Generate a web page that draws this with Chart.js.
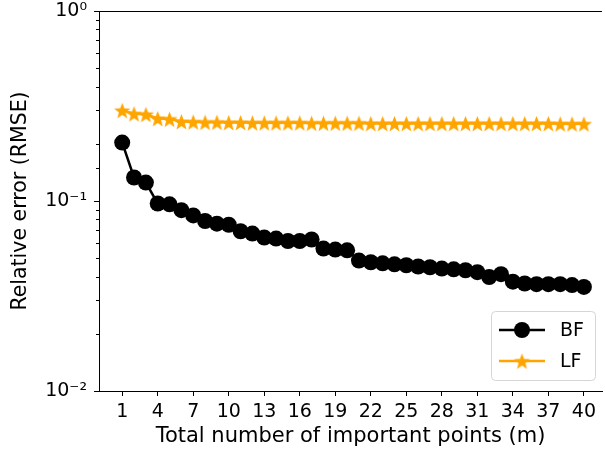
<!DOCTYPE html>
<html>
<head>
<meta charset="utf-8">
<title>Relative error vs important points</title>
<script src="https://cdn.jsdelivr.net/npm/chart.js"></script>
<style>
  html, body { margin: 0; padding: 0; background: #fff; overflow: hidden; }
  #wrap { width: 605px; height: 455px; overflow: hidden; }
</style>
</head>
<body>
<div id="wrap"><canvas id="errorChart" width="610" height="455"></canvas></div>
<script>
// m = total number of important points
const pointCounts = [1, 2, 3, 4, 5, 6, 7, 8, 9, 10, 11, 12, 13, 14, 15, 16, 17, 18, 19, 20,
  21, 22, 23, 24, 25, 26, 27, 28, 29, 30, 31, 32, 33, 34, 35, 36, 37, 38, 39, 40];

// relative error (RMSE)
const bfError = [0.203, 0.133, 0.125, 0.097, 0.096, 0.0895, 0.084, 0.0785, 0.076, 0.075,
  0.0693, 0.0674, 0.0642, 0.0634, 0.0616, 0.0616, 0.0627, 0.0562, 0.0555, 0.0550,
  0.0486, 0.0476, 0.0470, 0.0464, 0.0459, 0.0452, 0.0448, 0.0441, 0.0437, 0.0432,
  0.0422, 0.0398, 0.0412, 0.0376, 0.0368, 0.0365, 0.0365, 0.0365, 0.0361, 0.0353];
const lfError = [0.300, 0.288, 0.286, 0.272, 0.270, 0.262, 0.261, 0.260, 0.260, 0.259,
  0.259, 0.258, 0.258, 0.258, 0.258, 0.258, 0.257, 0.257, 0.257, 0.257,
  0.257, 0.256, 0.256, 0.256, 0.256, 0.256, 0.256, 0.256, 0.256, 0.256,
  0.256, 0.256, 0.256, 0.256, 0.256, 0.256, 0.256, 0.255, 0.255, 0.255];

const xTicks = [1, 4, 7, 10, 13, 16, 19, 22, 25, 28, 31, 34, 37, 40];
const yTickLabels = { '0': '10\u2070', '-1': '10\u207B\u00B9', '-2': '10\u207B\u00B2' };

const FONT = 'DejaVu Sans';
const ORANGE = '#FFA500';

// filled five-point star marker (Chart.js 'star' is only an asterisk)
function makeStar(r, color) {
  const c = document.createElement('canvas');
  const s = Math.ceil(r * 2) + 2;
  c.width = s; c.height = s;
  const g = c.getContext('2d');
  g.beginPath();
  for (let i = 0; i < 10; i++) {
    const rad = i % 2 === 0 ? r : r * 0.42;
    const a = -Math.PI / 2 + i * Math.PI / 5;
    const px = s / 2 + rad * Math.cos(a), py = s / 2 + 1 + rad * Math.sin(a);
    if (i === 0) g.moveTo(px, py); else g.lineTo(px, py);
  }
  g.closePath();
  g.fillStyle = color;
  g.fill();
  return c;
}
const starImg = makeStar(8.5, ORANGE);

// top spine + y ticks (minor ones shorter)
// the right spine sits past the visible edge, as in the original crop
const framePlugin = {
  id: 'frame',
  afterDraw(chart) {
    const { ctx, chartArea: a } = chart;
    const y = chart.scales.y;
    ctx.save();
    ctx.strokeStyle = '#000';
    ctx.lineWidth = 1;
    ctx.beginPath();
    ctx.moveTo(a.left, a.top + 0.5);
    ctx.lineTo(a.right, a.top + 0.5);
    y.ticks.forEach(t => {
      const e = Math.log10(t.value);
      const major = Math.abs(e - Math.round(e)) < 1e-6;
      const py = Math.round(y.getPixelForValue(t.value)) + 0.5;
      ctx.moveTo(a.left, py);
      ctx.lineTo(a.left - (major ? 5 : 3), py);
    });
    ctx.stroke();
    ctx.restore();
  }
};

// legend drawn inside the plot, lower right
const legendPlugin = {
  id: 'innerLegend',
  afterDraw(chart) {
    const { ctx, chartArea: a } = chart;
    const w = 104, h = 69;
    const x0 = a.right - 7 - w, y0 = a.bottom - 11 - h;
    ctx.save();
    ctx.beginPath();
    ctx.roundRect(x0 + 0.5, y0 + 0.5, w, h, 4);
    ctx.fillStyle = 'rgba(255,255,255,0.8)';
    ctx.fill();
    ctx.strokeStyle = '#d5d5d5';
    ctx.lineWidth = 1;
    ctx.stroke();
    const rows = [
      { label: 'BF', color: '#000', marker: 'circle' },
      { label: 'LF', color: ORANGE, marker: 'star' }
    ];
    rows.forEach((r, i) => {
      const cy = y0 + 19 + i * 31;
      const lx = x0 + 8;
      ctx.strokeStyle = r.color;
      ctx.lineWidth = 2.5;
      ctx.beginPath();
      ctx.moveTo(lx, cy);
      ctx.lineTo(lx + 46, cy);
      ctx.stroke();
      if (r.marker === 'circle') {
        ctx.fillStyle = r.color;
        ctx.beginPath();
        ctx.arc(lx + 23, cy, 8, 0, Math.PI * 2);
        ctx.fill();
      } else {
        ctx.drawImage(starImg, lx + 23 - starImg.width / 2, cy - starImg.height / 2);
      }
      ctx.fillStyle = '#000';
      ctx.font = '19px "' + FONT + '"';
      ctx.textBaseline = 'middle';
      ctx.textAlign = 'left';
      ctx.fillText(r.label, lx + 61, cy + 1);
    });
    ctx.restore();
  }
};

const ctx = document.getElementById('errorChart').getContext('2d');
new Chart(ctx, {
  type: 'line',
  data: {
    datasets: [
      {
        label: 'BF',
        data: pointCounts.map((m, i) => ({ x: m, y: bfError[i] })),
        borderColor: '#000',
        backgroundColor: '#000',
        borderWidth: 2.5,
        pointRadius: 8,
        pointBorderWidth: 0,
        pointBackgroundColor: '#000',
        tension: 0
      },
      {
        label: 'LF',
        data: pointCounts.map((m, i) => ({ x: m, y: lfError[i] })),
        borderColor: ORANGE,
        backgroundColor: ORANGE,
        borderWidth: 2.5,
        pointStyle: starImg,
        tension: 0
      }
    ]
  },
  options: {
    responsive: false,
    animation: false,
    layout: { padding: { top: 11, right: 0, left: 0, bottom: 0 } },
    plugins: {
      legend: { display: false },
      tooltip: { enabled: false }
    },
    scales: {
      x: {
        type: 'linear',
        min: -0.96,
        max: 41.53,
        afterBuildTicks: axis => { axis.ticks = xTicks.map(v => ({ value: v })); },
        afterFit: axis => { axis.height = 64; axis.paddingLeft = 0; axis.paddingRight = 0; },
        grid: { drawOnChartArea: false, drawTicks: true, tickLength: 5, tickColor: '#000' },
        border: { color: '#000', width: 1 },
        ticks: {
          autoSkip: false,
          maxRotation: 0,
          padding: 5,
          color: '#000',
          font: { family: FONT, size: 19 },
          callback: v => String(v)
        },
        title: {
          display: true,
          text: 'Total number of important points (m)',
          color: '#000',
          font: { family: FONT, size: 21 },
          padding: { top: 0, bottom: 6 }
        }
      },
      y: {
        type: 'logarithmic',
        min: 0.01,
        max: 1,
        afterFit: axis => { axis.width = 99; axis.paddingTop = 0; axis.paddingBottom = 0; },
        grid: { drawOnChartArea: false, drawTicks: false },
        border: { color: '#000', width: 1 },
        ticks: {
          autoSkip: false,
          padding: 12,
          color: '#000',
          font: { family: FONT, size: 19 },
          callback: v => {
            const e = Math.log10(v);
            const r = Math.round(e);
            return Math.abs(e - r) < 1e-6 ? (yTickLabels[String(r)] || '') : '';
          }
        },
        title: {
          display: true,
          text: 'Relative error (RMSE)',
          color: '#000',
          font: { family: FONT, size: 20.5 },
          padding: { top: 8, bottom: 0 }
        }
      }
    }
  },
  plugins: [framePlugin, legendPlugin]
});
</script>
</body>
</html>
